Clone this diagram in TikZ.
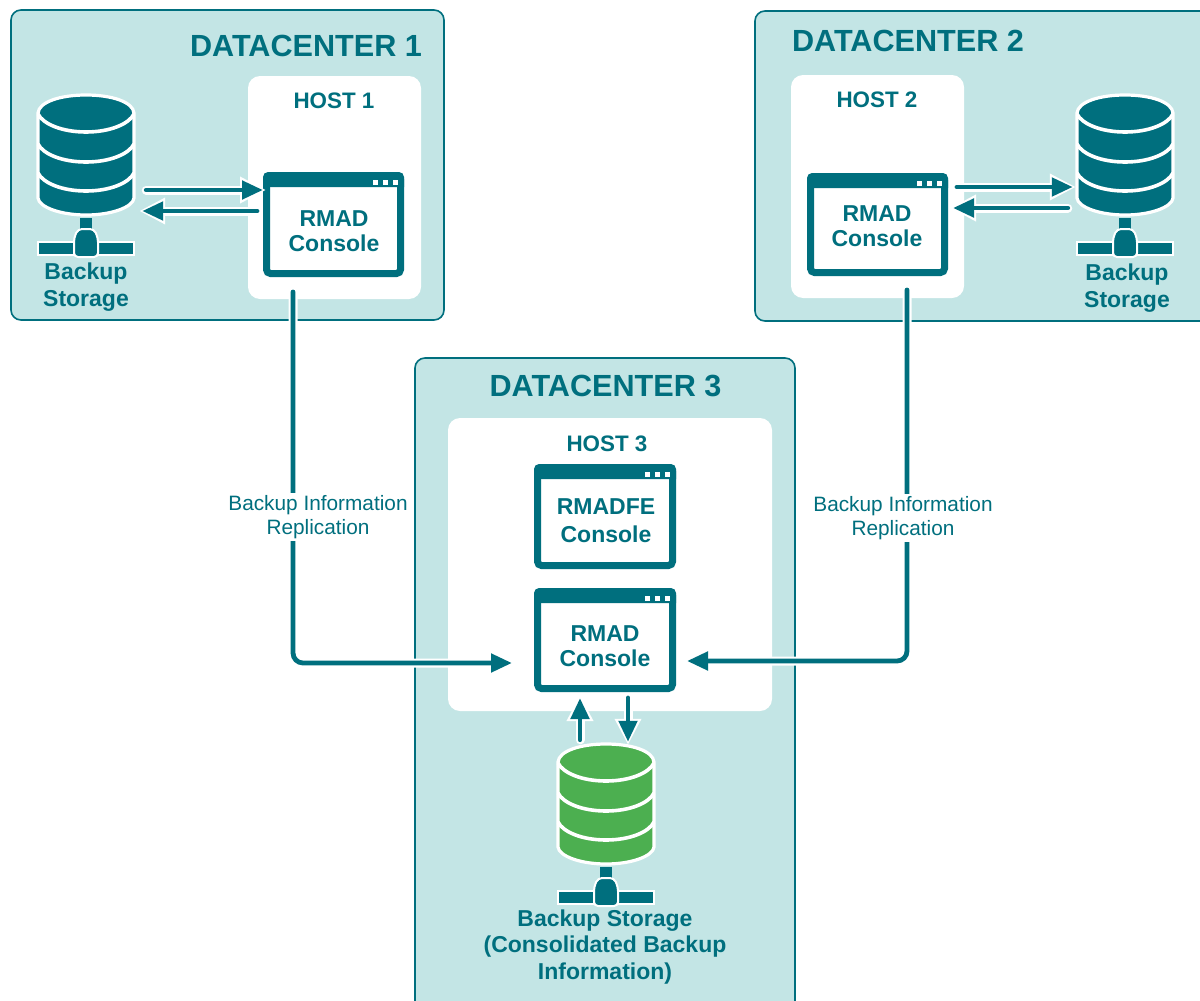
\documentclass[tikz,border=0pt]{standalone}
\usepackage{fontspec}
\setmainfont{Liberation Sans}
\usetikzlibrary{arrows.meta}
\definecolor{teal1}{HTML}{006F7E}
\definecolor{panel}{HTML}{C3E5E5}
\definecolor{green1}{HTML}{4CAF50}
\tikzset{
  x=1pt,y=-1pt,
  panelbox/.style={fill=panel,draw=teal1,line width=1.6pt,rounded corners=10pt},
  hostbox/.style={fill=white,rounded corners=12pt},
  title/.style={text=teal1,font=\fontsize{30.6}{36}\selectfont\bfseries,inner sep=0pt},
  hosttitle/.style={text=teal1,font=\fontsize{22.4}{26}\selectfont\bfseries,inner sep=0pt},
  wintext/.style={text=teal1,font=\fontsize{23}{25.5}\selectfont\bfseries,inner sep=0pt,align=center},
  dbtext/.style={text=teal1,font=\fontsize{23}{26.5}\selectfont\bfseries,inner sep=0pt,align=center},
  flowtext/.style={text=teal1,fill=white,font=\fontsize{20.8}{24}\selectfont,inner xsep=1pt,inner ysep=2pt,align=center},
  winbox/.style={draw=teal1,fill=white,line width=7pt,rounded corners=4pt,minimum width=134pt,minimum height=98pt,inner sep=0pt},
  dbbox/.style={minimum width=96pt,minimum height=120pt,inner sep=0pt},
  halo/.style={draw=white,line width=9pt,line cap=round,shorten >=-3pt,-{Triangle[length=26pt,width=25pt]}},
  flow/.style={draw=teal1,line width=4.8pt,line cap=round,-{Triangle[length=21pt,width=18pt]}},
}
% window: name, cx, cy, width, height (outer)
\newcommand{\winicon}[5]{%
  \node[winbox,minimum width=#4pt-7pt,minimum height=#5pt-7pt] (#1) at (#2,#3) {};
  \fill[teal1] ([yshift=-15pt]#1.north west) [rounded corners=5pt] -- (#1.north west) -- (#1.north east) [sharp corners] -- ([yshift=-15pt]#1.north east) -- cycle;
  \foreach \dx in {-31,-21,-11}
    \fill[white] ([xshift=\dx pt,yshift=-8pt]#1.north east) rectangle ++(5,5);
}
\newcommand{\dbband}[1]{(-48,#1) .. controls (-43,#1+10) and (-24,#1+18) .. (0,#1+18) .. controls (24,#1+18) and (43,#1+10) .. (48,#1)}
% database: name, cx, top, colour
\newcommand{\dbicon}[4]{%
  \begin{scope}[shift={(#2,#3)}]
    \path[fill=#4,draw=white,line width=3.2pt]
      (-48,18) .. controls (-47,7) and (-26,0) .. (0,0)
      .. controls (26,0) and (47,7) .. (48,18)
      -- (48,103) .. controls (47,112) and (26,120) .. (0,120)
      .. controls (-26,120) and (-47,112) .. (-48,103) -- cycle;
    \draw[white,line width=3.6pt] \dbband{19};
    \draw[white,line width=3.6pt] \dbband{49};
    \draw[white,line width=3.6pt] \dbband{78};
    \path[fill=teal1,draw=white,line width=2pt] (-48,146.5) rectangle (48,159.5);
    \path[fill=teal1] (-6,123) rectangle (6,136);
    \path[fill=teal1,draw=white,line width=2pt,rounded corners=4pt] (-8,134) -- (8,134) -- (12,143) -- (12,162) -- (-12,162) -- (-12,143) -- cycle;
  \end{scope}
  \node[dbbox] (#1) at (#2,#3+60) {};
}
\begin{document}
\begin{tikzpicture}
\clip (0,0) rectangle (1200,1001);
\fill[white] (0,0) rectangle (1200,1001);
% panels
\path[panelbox] (11,10) rectangle (444,320);
\path[panelbox] (755,11) rectangle (1215,321);
\path[panelbox] (415,358) rectangle (795,1015);
\path[hostbox] (248,76) rectangle (421,299);
\path[hostbox] (791,75) rectangle (964,298);
\path[hostbox] (448,418) rectangle (772,711);
% titles
\node[title] (t1) at (306,46) {DATACENTER 1};
\node[title] (t2) at (908,41) {DATACENTER 2};
\node[title] (t3) at (605.5,386) {DATACENTER 3};
\node[hosttitle] (h1) at (334,101) {HOST 1};
\node[hosttitle] (h2) at (877,100) {HOST 2};
\node[hosttitle] (h3) at (607,444) {HOST 3};
% windows
\winicon{w1}{333.5}{224.5}{141}{105}
\winicon{w2}{877.5}{224.5}{141}{103}
\winicon{w4}{605}{516.5}{142}{105}
\winicon{w3}{605}{640}{142}{104}
\node[wintext] (w1t) at (334,231) {RMAD\\Console};
\node[wintext] (w2t) at (877,226) {RMAD\\Console};
\node[wintext,font=\fontsize{23}{28}\selectfont\bfseries] (w4t) at (606,520.5) {RMADFE\\Console};
\node[wintext] (w3t) at (605,646) {RMAD\\Console};
% databases
\dbicon{d1}{86}{95}{teal1}
\dbicon{d2}{1125}{95}{teal1}
\dbicon{d3}{606}{744}{green1}
\node[dbtext] (d1t) at (86,287) {Backup\\Storage};
\node[dbtext] (d2t) at (1127,288) {Backup\\Storage};
\node[dbtext] (d3t) at (605,947) {Backup Storage\\(Consolidated Backup\\Information)};
% replication links
\draw[halo,rounded corners=10pt] ([xshift=-40.5pt,yshift=-15pt]w1.south) |- ([xshift=-22pt,yshift=-23pt]w3.west);
\draw[halo,rounded corners=10pt] ([xshift=29.5pt,yshift=-14pt]w2.south) |- ([xshift=11pt,yshift=-21pt]w3.east);
\draw[flow,rounded corners=10pt] ([xshift=-40.5pt,yshift=-15pt]w1.south) |- ([xshift=-22pt,yshift=-23pt]w3.west);
\draw[flow,rounded corners=10pt] ([xshift=29.5pt,yshift=-14pt]w2.south) |- ([xshift=11pt,yshift=-21pt]w3.east);
\node[flowtext] (r1) at (318,517) {Backup Information\\Replication};
\node[flowtext] (r2) at (903,518) {Backup Information\\Replication};
% local arrows
\draw[halo] ([xshift=12pt,yshift=-35pt]d1.east) -- ([yshift=34.5pt]w1.west);
\draw[flow] ([xshift=12pt,yshift=-35pt]d1.east) -- ([yshift=34.5pt]w1.west);
\draw[halo] ([xshift=-6pt,yshift=13.5pt]w1.west) -- ([xshift=8pt,yshift=-56pt]d1.east);
\draw[flow] ([xshift=-6pt,yshift=13.5pt]w1.west) -- ([xshift=8pt,yshift=-56pt]d1.east);
\draw[halo] ([xshift=9pt,yshift=37.5pt]w2.east) -- ([xshift=-4pt,yshift=-32pt]d2.west);
\draw[flow] ([xshift=9pt,yshift=37.5pt]w2.east) -- ([xshift=-4pt,yshift=-32pt]d2.west);
\draw[halo] ([xshift=-9pt,yshift=-53pt]d2.west) -- ([xshift=5pt,yshift=16.5pt]w2.east);
\draw[flow] ([xshift=-9pt,yshift=-53pt]d2.west) -- ([xshift=5pt,yshift=16.5pt]w2.east);
\draw[halo] ([xshift=-26pt,yshift=4pt]d3.north) -- ([xshift=-25pt,yshift=-6pt]w3.south);
\draw[flow] ([xshift=-26pt,yshift=4pt]d3.north) -- ([xshift=-25pt,yshift=-6pt]w3.south);
\draw[halo] ([xshift=23pt,yshift=-6pt]w3.south) -- ([xshift=22pt,yshift=2pt]d3.north);
\draw[flow] ([xshift=23pt,yshift=-6pt]w3.south) -- ([xshift=22pt,yshift=2pt]d3.north);
\end{tikzpicture}
\end{document}
